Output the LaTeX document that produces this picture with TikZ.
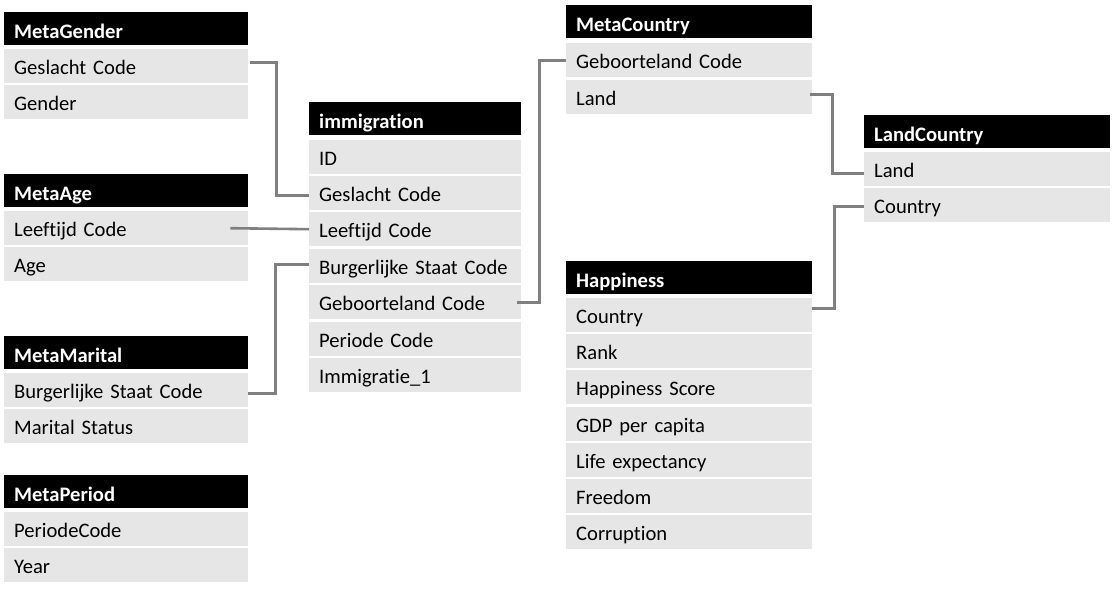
\documentclass[tikz,border=0pt]{standalone}
\usepackage{fontspec}
\setmainfont[Ligatures={NoCommon,NoRequired,NoContextual},Contextuals=NoAlternate]{Carlito}
\definecolor{rowgray}{RGB}{231,230,230}
\definecolor{linegray}{RGB}{128,128,128}
\begin{document}
\begin{tikzpicture}[x=1pt,y=-1pt,
  cell/.style={anchor=north west, inner xsep=10pt, inner ysep=0pt, align=left,
    font=\fontsize{20.6}{24}\selectfont, minimum height=34pt, text height=25pt, text depth=9pt},
  hdr/.style={cell, fill=black, text=white, font=\fontsize{20.6}{24}\selectfont\bfseries,
    minimum height=33pt, text height=26pt, text depth=7pt},
  fld/.style={cell, fill=rowgray, text=black},
  wA/.style={text width=224pt},
  wB/.style={text width=192pt},
  wC/.style={text width=226pt},
  conn/.style={draw=linegray, line width=2.6pt}
]
\useasboundingbox (0,0) rectangle (1118,589);
% MetaGender
\node[hdr,wA] (mgh) at (4,12) {MetaGender};
\node[fld,wA] (mg1) at (4,49) {Geslacht Code};
\node[fld,wA] (mg2) at (4,85) {Gender};
% MetaAge
\node[hdr,wA] (mah) at (4,174) {MetaAge};
\node[fld,wA] (ma1) at (4,211) {Leeftijd Code};
\node[fld,wA] (ma2) at (4,247) {Age};
% MetaMarital
\node[hdr,wA] (mmh) at (4,336) {MetaMarital};
\node[fld,wA] (mm1) at (4,373) {Burgerlijke Staat Code};
\node[fld,wA] (mm2) at (4,409) {Marital Status};
% MetaPeriod
\node[hdr,wA] (mph) at (4,475) {MetaPeriod};
\node[fld,wA] (mp1) at (4,512) {PeriodeCode};
\node[fld,wA] (mp2) at (4,548) {Year};
% immigration
\node[hdr,wB] (imh) at (309,102) {immigration};
\node[fld,wB] (im1) at (309,140) {ID};
\node[fld,wB] (im2) at (309,176) {Geslacht Code};
\node[fld,wB] (im3) at (309,212) {Leeftijd Code};
\node[fld,wB] (im4) at (309,249) {Burgerlijke Staat Code};
\node[fld,wB] (im5) at (309,285) {Geboorteland Code};
\node[fld,wB] (im6) at (309,322) {Periode Code};
\node[fld,wB] (im7) at (309,358) {Immigratie\_1};
% MetaCountry
\node[hdr,wC] (mch) at (566,5) {MetaCountry};
\node[fld,wC] (mc1) at (566,43) {Geboorteland Code};
\node[fld,wC] (mc2) at (566,80) {Land};
% LandCountry
\node[hdr,wC] (lch) at (864,115) {LandCountry};
\node[fld,wC] (lc1) at (864,152) {Land};
\node[fld,wC] (lc2) at (864,188) {Country};
% Happiness
\node[hdr,wC] (hph) at (566,261) {Happiness};
\node[fld,wC] (hp1) at (566,298) {Country};
\node[fld,wC] (hp2) at (566,334) {Rank};
\node[fld,wC] (hp3) at (566,370) {Happiness Score};
\node[fld,wC] (hp4) at (566,407) {GDP per capita};
\node[fld,wC] (hp5) at (566,443) {Life expectancy};
\node[fld,wC] (hp6) at (566,479) {Freedom};
\node[fld,wC] (hp7) at (566,515) {Corruption};
% connectors
\draw[conn] ([xshift=2pt,yshift=4pt]mg1.east) -- ++(26,0) |- ([yshift=-2pt]im2.west);
\draw[conn] ([xshift=-18pt]ma1.east) -- (im3.west);
\draw[conn] ([yshift=-3pt]mm1.east) -- ++(27,0) |- ([yshift=2pt]im4.west);
\draw[conn] ([xshift=-4pt]im5.east) -- ++(22,0) |- (mc1.west);
\draw[conn] ([xshift=-2pt,yshift=3pt]mc2.east) -- ++(22,0) |- ([yshift=-4pt]lc1.west);
\draw[conn] ([yshift=7pt]hp1.east) -- ++(22,0) |- ([yshift=-1pt]lc2.west);
\end{tikzpicture}
\end{document}
